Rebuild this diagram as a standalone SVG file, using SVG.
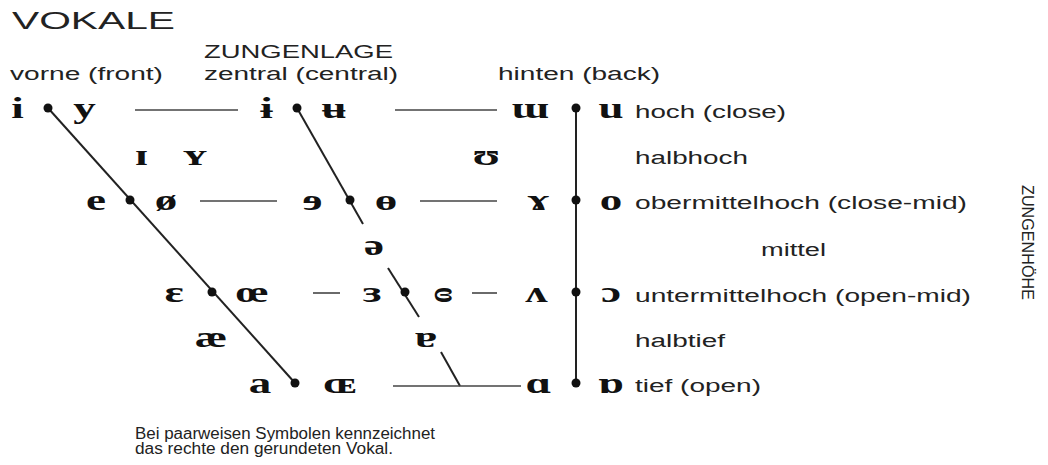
<svg xmlns="http://www.w3.org/2000/svg" width="1048" height="465" viewBox="0 0 1048 465">
  <style>
    .sans { font-family: "Liberation Sans", Arial, sans-serif; fill: #222; }
    .title { font-size: 23px; }
    .head { font-size: 18px; }
    .lab { font-size: 18px; }
    .note { font-size: 16px; }
    .ipa { font-family: "Liberation Serif", "DejaVu Serif", serif; font-weight: bold; font-size: 30px; fill: #111; text-anchor: middle; }
    .ln { stroke: #222; stroke-width: 2; fill: none; }
    .hl { stroke: #444; stroke-width: 1.6; fill: none; }
    .dot { fill: #111; }
  </style>

  <!-- headings -->
  <g id="headings" class="sans">
    <text class="title" x="12" y="29" textLength="163" lengthAdjust="spacingAndGlyphs">VOKALE</text>
    <text class="head" x="204" y="58" textLength="189" lengthAdjust="spacingAndGlyphs">ZUNGENLAGE</text>
    <text class="head" x="10" y="80" textLength="153" lengthAdjust="spacingAndGlyphs">vorne (front)</text>
    <text class="head" x="204" y="80" textLength="194" lengthAdjust="spacingAndGlyphs">zentral (central)</text>
    <text class="head" x="498" y="80" textLength="162" lengthAdjust="spacingAndGlyphs">hinten (back)</text>
    <text class="head" transform="translate(1022,185) rotate(90)" textLength="115" lengthAdjust="spacingAndGlyphs" style="font-size:16px">ZUNGENHÖHE</text>
  </g>

  <!-- connectors: front, central and back lines plus the row links -->
  <g id="connectors">
    <line class="ln" x1="48" y1="108" x2="295" y2="383"/>
    <line class="ln" x1="297" y1="108" x2="363" y2="224"/>
    <line class="ln" x1="388" y1="268" x2="419" y2="317"/>
    <line class="ln" x1="441" y1="352" x2="460" y2="386"/>
    <line class="ln" x1="576" y1="108" x2="576" y2="383"/>
    <line class="hl" x1="135" y1="110" x2="238" y2="110"/>
    <line class="hl" x1="395" y1="110" x2="497" y2="110"/>
    <line class="hl" x1="200" y1="201" x2="277" y2="201"/>
    <line class="hl" x1="420" y1="201" x2="497" y2="201"/>
    <line class="hl" x1="313" y1="293" x2="340" y2="293"/>
    <line class="hl" x1="472" y1="293" x2="497" y2="293"/>
    <line class="hl" x1="393" y1="386" x2="521" y2="386"/>
  </g>

  <!-- row 1: close -->
  <g id="row-close">
    <text class="ipa" transform="translate(17.5,118) scale(1.5,1)">i</text>
    <circle class="dot" cx="48" cy="108" r="4.5"/>
    <text class="ipa" transform="translate(84.5,118) scale(1.5,1)">y</text>
    <text class="ipa" transform="translate(266.5,118) scale(1.5,1)">ɨ</text>
    <circle class="dot" cx="297" cy="108" r="4.5"/>
    <text class="ipa" transform="translate(334,118) scale(1.5,1)">ʉ</text>
    <text class="ipa" transform="translate(530,118) scale(1.5,1)">ɯ</text>
    <circle class="dot" cx="576" cy="108" r="4.5"/>
    <text class="ipa" transform="translate(611,118) scale(1.5,1)">u</text>
    <text class="sans lab" x="635" y="118" textLength="151" lengthAdjust="spacingAndGlyphs">hoch (close)</text>
  </g>

  <!-- row 2: near-close -->
  <g id="row-halbhoch">
    <text class="ipa" transform="translate(141.5,165) scale(1.5,1)">ɪ</text>
    <text class="ipa" transform="translate(195,165) scale(1.5,1)">ʏ</text>
    <text class="ipa" transform="translate(486.5,165) scale(1.5,1)">ʊ</text>
    <text class="sans lab" x="635" y="164" textLength="113" lengthAdjust="spacingAndGlyphs">halbhoch</text>
  </g>

  <!-- row 3: close-mid -->
  <g id="row-close-mid">
    <text class="ipa" transform="translate(96,210) scale(1.5,1)">e</text>
    <circle class="dot" cx="130" cy="200" r="4.5"/>
    <text class="ipa" transform="translate(166,210) scale(1.5,1)">ø</text>
    <text class="ipa" transform="translate(312.5,210) scale(1.5,1)">ɘ</text>
    <circle class="dot" cx="350" cy="200" r="4.5"/>
    <text class="ipa" transform="translate(386,210) scale(1.5,1)">ɵ</text>
    <text class="ipa" transform="translate(538.5,210) scale(1.5,1)">ɤ</text>
    <circle class="dot" cx="576" cy="200" r="4.5"/>
    <text class="ipa" transform="translate(611,210) scale(1.5,1)">o</text>
    <text class="sans lab" x="635" y="209" textLength="332" lengthAdjust="spacingAndGlyphs">obermittelhoch (close-mid)</text>
  </g>

  <!-- row 4: mid -->
  <g id="row-mid">
    <text class="ipa" transform="translate(374,255) scale(1.5,1)">ə</text>
    <text class="sans lab" x="761" y="256" textLength="65" lengthAdjust="spacingAndGlyphs">mittel</text>
  </g>

  <!-- row 5: open-mid -->
  <g id="row-open-mid">
    <text class="ipa" transform="translate(174,302) scale(1.5,1)">ɛ</text>
    <circle class="dot" cx="212" cy="292" r="4.5"/>
    <text class="ipa" transform="translate(252,302) scale(1.5,1)">œ</text>
    <text class="ipa" transform="translate(372,302) scale(1.5,1)">ɜ</text>
    <circle class="dot" cx="405" cy="292" r="4.5"/>
    <text class="ipa" transform="translate(443.5,302) scale(1.5,1)">ɞ</text>
    <text class="ipa" transform="translate(536.5,302) scale(1.5,1)">ʌ</text>
    <circle class="dot" cx="576" cy="292" r="4.5"/>
    <text class="ipa" transform="translate(611,302) scale(1.5,1)">ɔ</text>
    <text class="sans lab" x="635" y="302" textLength="336" lengthAdjust="spacingAndGlyphs">untermittelhoch (open-mid)</text>
  </g>

  <!-- row 6: near-open -->
  <g id="row-halbtief">
    <text class="ipa" transform="translate(211,347) scale(1.5,1)">æ</text>
    <text class="ipa" transform="translate(426,347) scale(1.5,1)">ɐ</text>
    <text class="sans lab" x="635" y="347" textLength="90" lengthAdjust="spacingAndGlyphs">halbtief</text>
  </g>

  <!-- row 7: open -->
  <g id="row-open">
    <text class="ipa" transform="translate(260,393) scale(1.5,1)">a</text>
    <circle class="dot" cx="295" cy="383" r="4.5"/>
    <text class="ipa" transform="translate(340,393) scale(1.5,1)">ɶ</text>
    <text class="ipa" transform="translate(538.5,393) scale(1.5,1)">ɑ</text>
    <circle class="dot" cx="576" cy="383" r="4.5"/>
    <text class="ipa" transform="translate(611,393) scale(1.5,1)">ɒ</text>
    <text class="sans lab" x="635" y="392" textLength="126" lengthAdjust="spacingAndGlyphs">tief (open)</text>
  </g>

  <!-- footnote -->
  <g id="note" class="sans note">
    <text x="135" y="439" textLength="300" lengthAdjust="spacingAndGlyphs">Bei paarweisen Symbolen kennzeichnet</text>
    <text x="135" y="454" textLength="258" lengthAdjust="spacingAndGlyphs">das rechte den gerundeten Vokal.</text>
  </g>
</svg>
